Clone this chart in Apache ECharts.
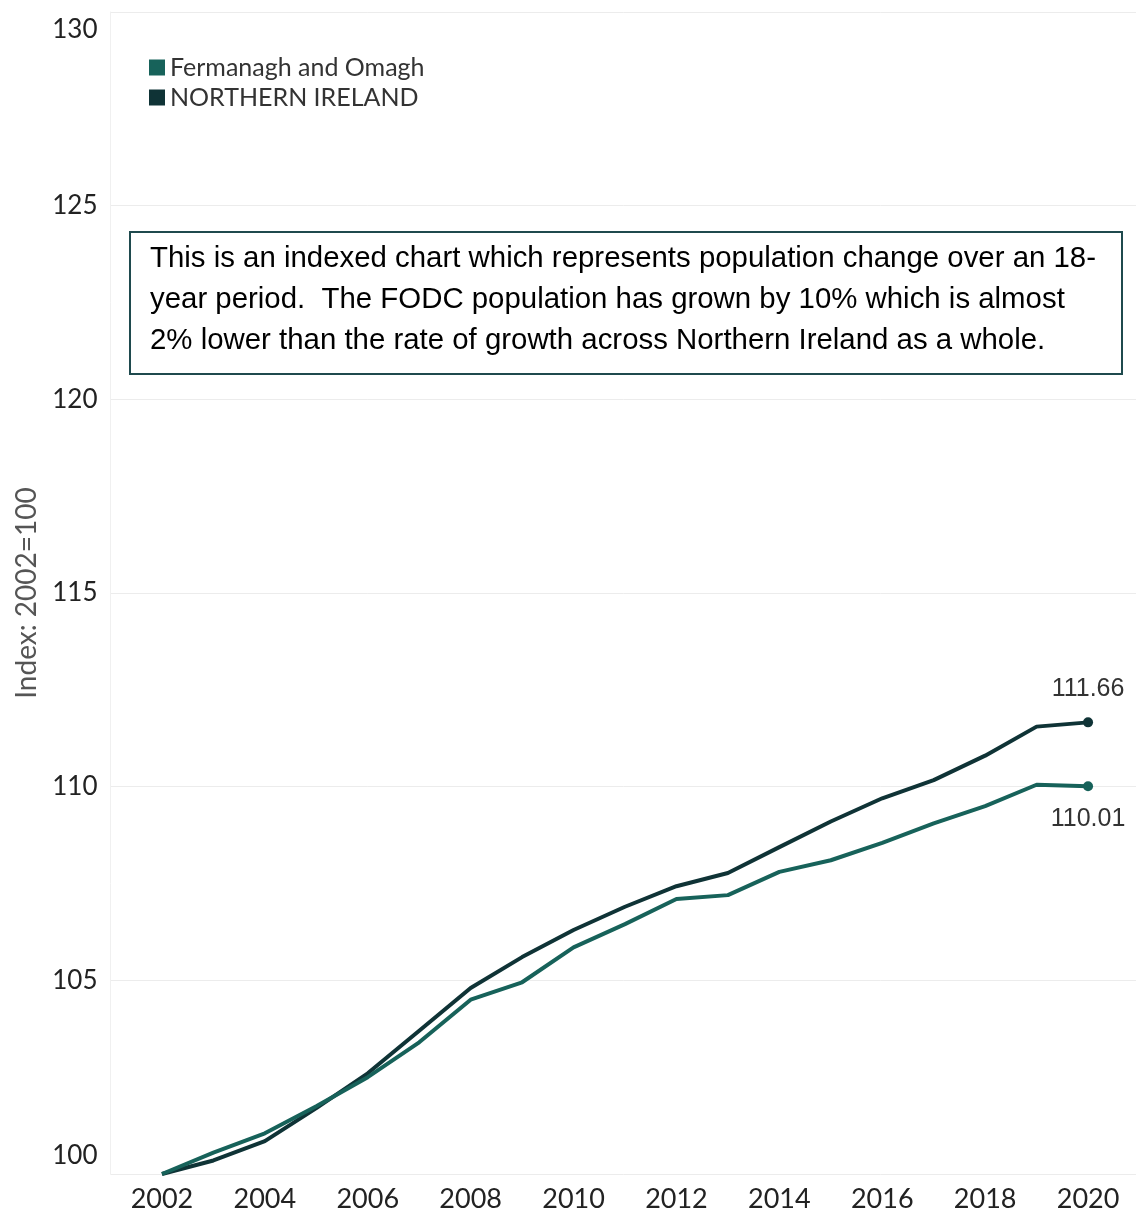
<!DOCTYPE html>
<html>
<head>
<meta charset="utf-8">
<script src="https://cdn.jsdelivr.net/npm/echarts@6/dist/echarts.min.js"></script>
<style>
html,body{margin:0;padding:0;background:#fff;}
#chart{width:1136px;height:1212px;}
</style>
</head>
<body>
<div id="chart"></div>
<script>
const years = [2002,2003,2004,2005,2006,2007,2008,2009,2010,2011,2012,2013,2014,2015,2016,2017,2018,2019,2020];
const fermanagh = [100,100.55,101.05,101.75,102.5,103.4,104.5,104.95,105.85,106.45,107.1,107.2,107.8,108.1,108.55,109.05,109.5,110.05,110.01];
const northernIreland = [100,100.35,100.85,101.7,102.6,103.7,104.8,105.6,106.3,106.9,107.43,107.77,108.44,109.1,109.7,110.17,110.8,111.55,111.66];
const xTickLabels = [2002,2004,2006,2008,2010,2012,2014,2016,2018,2020];
const seriesNames = ['Fermanagh and Omagh','NORTHERN IRELAND'];
const annotation = 'This is an indexed chart which represents population change over an 18-\nyear period.  The FODC population has grown by 10% which is almost\n2% lower than the rate of growth across Northern Ireland as a whole.';

const colFO = '#17625a';
const colNI = '#0f3336';
const last = years.length - 1;

function build(vals, labelPos, dist){
  return vals.map((v,i)=>{
    const item = {value:[years[i], v]};
    if(i===last){
      item.label = {show:true, position:labelPos, distance:dist, formatter:(p)=>p.value[1].toFixed(2)};
    }
    return item;
  });
}

const chart = echarts.init(document.getElementById('chart'));
chart.setOption({
  backgroundColor:'#fff',
  animation:false,
  textStyle:{fontFamily:'Lato'},
  grid:{left:110.5, width:1029, top:12, bottom:38, containLabel:false, outerBoundsMode:'none'},
  legend:{
    orient:'vertical', left:144, top:50, itemGap:5,
    icon:'rect', itemWidth:16, itemHeight:16,
    textStyle:{fontSize:25, color:'#333', fontFamily:'Lato'},
    data:seriesNames
  },
  xAxis:{
    type:'value', min:2001, max:2021, interval:1,
    axisLine:{show:false}, axisTick:{show:false}, splitLine:{show:false},
    axisLabel:{
      fontSize:27, color:'#222', margin:12, fontFamily:'Lato',
      formatter:(v)=> xTickLabels.indexOf(v)>=0 ? String(v) : ''
    }
  },
  yAxis:{
    type:'value', min:100, max:130, interval:5,
    name:'Index: 2002=100', nameLocation:'middle', nameGap:62, nameRotate:90,
    nameTextStyle:{fontSize:28, color:'#555', fontFamily:'Lato'},
    axisLine:{show:true, lineStyle:{color:'#f0f0f0', width:1}},
    axisTick:{show:false},
    splitLine:{show:true, lineStyle:{color:'#ececec', width:1}},
    axisLabel:{fontSize:26, color:'#222', margin:13, fontFamily:'Lato', lineHeight:36,
      verticalAlignMinLabel:'bottom', verticalAlignMaxLabel:'top'}
  },
  graphic:[
    {type:'rect', shape:{x:130, y:232, width:992, height:142}, z:10,
     style:{fill:'#fff', stroke:'#1f4a4e', lineWidth:2}},
    {type:'text', x:150, y:238, z:11,
     style:{text:annotation, font:'29.4px "Liberation Sans", Arial, sans-serif', fill:'#000', lineHeight:41, verticalAlign:'top'}}
  ],
  series:[
    {
      name:seriesNames[0], type:'line', data:build(fermanagh,'bottom',15),
      color:colFO, lineStyle:{width:4, color:colFO},
      symbol:'circle', symbolSize:(v,p)=> p.dataIndex===last ? 10 : 0,
      itemStyle:{color:colFO},
      label:{fontSize:25, color:'#333', fontFamily:'"Liberation Sans", Arial, sans-serif'},
      z:3
    },
    {
      name:seriesNames[1], type:'line', data:build(northernIreland,'top',16),
      color:colNI, lineStyle:{width:4, color:colNI},
      symbol:'circle', symbolSize:(v,p)=> p.dataIndex===last ? 10 : 0,
      itemStyle:{color:colNI},
      label:{fontSize:25, color:'#333', fontFamily:'"Liberation Sans", Arial, sans-serif'},
      z:2
    }
  ]
});
</script>
</body>
</html>
